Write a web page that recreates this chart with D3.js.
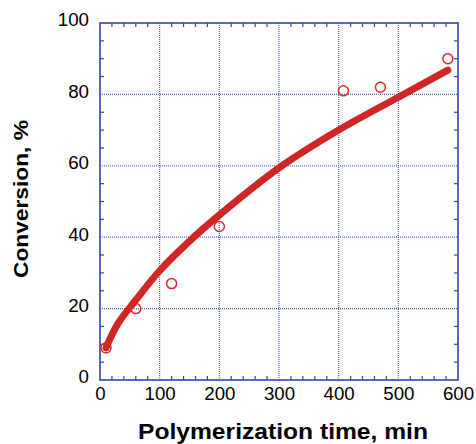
<!DOCTYPE html>
<html>
<head>
<meta charset="utf-8">
<script src="https://cdn.jsdelivr.net/npm/d3@7"></script>
<style>
  html, body { margin: 0; padding: 0; background: #fff; }
  svg { display: block; }
</style>
</head>
<body>
<svg id="chart" width="476" height="444"></svg>
<script>
// Measured conversion points
const timeMin = [10, 60, 120, 200, 408, 470, 583];
const conversion = [9, 20, 27, 43, 81, 82, 90];

// Fitted kinetic curve
const fitTime = [10, 30, 60, 100, 150, 200, 300, 400, 500, 583];
const fitConv = [9.0, 15.8, 22.4, 30.6, 38.9, 46.2, 59.4, 70.0, 79.2, 86.8];

const xTicks = [0, 100, 200, 300, 400, 500, 600];
const yTicks = [0, 20, 40, 60, 80, 100];

const svg = d3.select("#chart");
const plotLeft = 100, plotRight = 458, plotTop = 23, plotBottom = 380;

const x = d3.scaleLinear().domain([0, 600]).range([plotLeft, plotRight]);
const y = d3.scaleLinear().domain([0, 100]).range([plotBottom, plotTop]);

const gridColor = "#5563c4";
const frameColor = "#3443b0";
const font = "Liberation Sans, Arial, sans-serif";

// Dotted grid at major ticks
const grid = svg.append("g");
grid.selectAll("line.gx").data(xTicks.slice(1, -1)).join("line")
  .attr("x1", d => x(d)).attr("x2", d => x(d))
  .attr("y1", plotTop).attr("y2", plotBottom)
  .attr("stroke", gridColor).attr("stroke-width", 1.2)
  .attr("stroke-dasharray", "1,1");
grid.selectAll("line.gy").data(yTicks.slice(1, -1)).join("line")
  .attr("x1", plotLeft).attr("x2", plotRight)
  .attr("y1", d => y(d)).attr("y2", d => y(d))
  .attr("stroke", gridColor).attr("stroke-width", 1.2)
  .attr("stroke-dasharray", "1,1");

// Inward minor ticks on all four sides
const tickLen = 4;
const xMinor = d3.range(0, 601, 20).filter(v => v % 100 !== 0);
const yMinor = d3.range(0, 101, 5).filter(v => v % 20 !== 0);
const ticks = svg.append("g").attr("stroke", frameColor).attr("stroke-width", 1.2);
[[plotBottom, -tickLen], [plotTop, tickLen]].forEach(([yy, dir]) => {
  ticks.append("g").selectAll("line").data(xMinor).join("line")
    .attr("x1", d => x(d)).attr("x2", d => x(d))
    .attr("y1", yy).attr("y2", yy + dir);
});
[[plotLeft, tickLen], [plotRight, -tickLen]].forEach(([xx, dir]) => {
  ticks.append("g").selectAll("line").data(yMinor).join("line")
    .attr("y1", d => y(d)).attr("y2", d => y(d))
    .attr("x1", xx).attr("x2", xx + dir);
});

// Frame
svg.append("rect")
  .attr("x", plotLeft).attr("y", plotTop)
  .attr("width", plotRight - plotLeft).attr("height", plotBottom - plotTop)
  .attr("fill", "none").attr("stroke", frameColor).attr("stroke-width", 1.6);

// Tick labels via axes (slightly wide digits)
const xAxis = d3.axisBottom(x).tickValues(xTicks).tickSize(0).tickPadding(8).tickFormat(d3.format("d"));
const yAxis = d3.axisLeft(y).tickValues(yTicks).tickSize(0).tickPadding(11).tickFormat(d3.format("d"));
const gx = svg.append("g").attr("transform", `translate(0,${plotBottom})`).call(xAxis);
const gy = svg.append("g").attr("transform", `translate(${plotLeft},0)`).call(yAxis);
[gx, gy].forEach(g => {
  g.select(".domain").remove();
  g.selectAll("text")
    .attr("font-family", font)
    .attr("font-size", 17.5).attr("fill", "#000")
    .attr("textLength", d => String(d).length * 10.4)
    .attr("lengthAdjust", "spacingAndGlyphs");
});
gy.selectAll("text").attr("dy", "0.17em");

// Fitted curve
const line = d3.line().x((d, i) => x(fitTime[i])).y(d => y(d)).curve(d3.curveCatmullRom.alpha(0.5));
svg.append("path")
  .datum(fitConv)
  .attr("d", line)
  .attr("fill", "none")
  .attr("stroke", "#d02626")
  .attr("stroke-width", 7)
  .attr("stroke-linecap", "round");

// Data points
svg.append("g").selectAll("circle").data(conversion).join("circle")
  .attr("cx", (d, i) => x(timeMin[i]))
  .attr("cy", d => y(d))
  .attr("r", 5)
  .attr("fill", "none")
  .attr("stroke", "#dd2a2a")
  .attr("stroke-width", 1.5);

// Axis titles
svg.append("text")
  .attr("x", 283).attr("y", 439)
  .attr("text-anchor", "middle")
  .attr("font-family", font)
  .attr("font-weight", "bold").attr("font-size", 22)
  .attr("textLength", 290).attr("lengthAdjust", "spacingAndGlyphs")
  .text("Polymerization time, min");

svg.append("text")
  .attr("transform", "translate(28,199) rotate(-90)")
  .attr("text-anchor", "middle")
  .attr("font-family", font)
  .attr("font-weight", "bold").attr("font-size", 21)
  .attr("textLength", 158).attr("lengthAdjust", "spacingAndGlyphs")
  .text("Conversion, %");
</script>
</body>
</html>
